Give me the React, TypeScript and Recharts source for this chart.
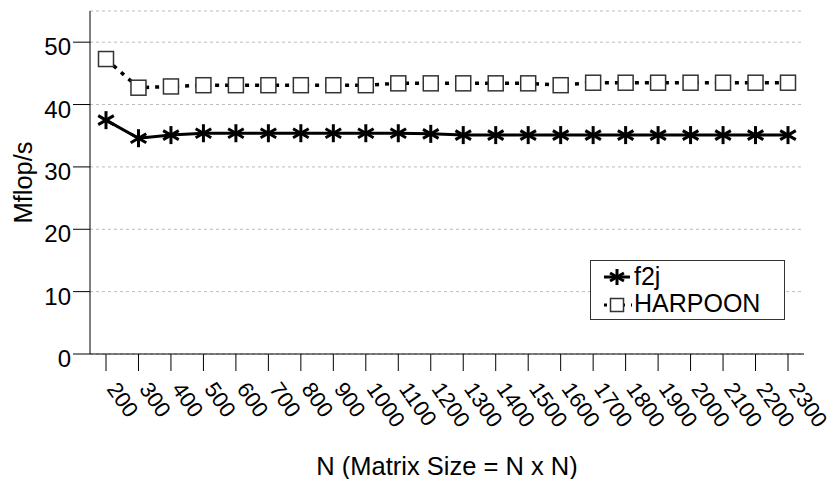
import { CartesianGrid, Legend, Line, LineChart, XAxis, YAxis } from 'recharts'

const sizes = [
  '200', '300', '400', '500', '600', '700', '800', '900', '1000', '1100', '1200',
  '1300', '1400', '1500', '1600', '1700', '1800', '1900', '2000', '2100', '2200', '2300',
]
const f2j = [
  37.5, 34.6, 35.1, 35.4, 35.4, 35.4, 35.4, 35.4, 35.4, 35.4, 35.3,
  35.1, 35.1, 35.1, 35.1, 35.1, 35.1, 35.1, 35.1, 35.1, 35.1, 35.1,
]
const harpoon = [
  47.3, 42.7, 42.9, 43.1, 43.1, 43.1, 43.1, 43.1, 43.1, 43.4, 43.4,
  43.4, 43.4, 43.4, 43.1, 43.5, 43.5, 43.5, 43.5, 43.5, 43.5, 43.5,
]
const yTicks = [0, 10, 20, 30, 40, 50]

const FONT = '"Liberation Sans", Arial, Helvetica, sans-serif'
const FS = 24

const data = sizes.map((n, i) => ({ n, f2j: f2j[i], harpoon: harpoon[i] }))

function Asterisk({ cx, cy, size = 9 }: any) {
  if (cx == null || cy == null) return null
  const arms = [90, 30, 150].map((a) => {
    const rad = (a * Math.PI) / 180
    return [Math.cos(rad) * size, Math.sin(rad) * size]
  })
  return (
    <g stroke="#000" strokeWidth={3}>
      {arms.map(([dx, dy], i) => (
        <line key={i} x1={cx - dx} y1={cy - dy} x2={cx + dx} y2={cy + dy} />
      ))}
    </g>
  )
}

function Square({ cx, cy, s = 15 }: any) {
  if (cx == null || cy == null) return null
  return (
    <rect x={cx - s / 2} y={cy - s / 2} width={s} height={s} fill="#fff" stroke="#333" strokeWidth={1.5} />
  )
}

// tick labels run down-right at a steep angle, starting just below each tick
function XTick({ x, y, payload }: any) {
  return (
    <g transform={`translate(${x},${y + 18}) rotate(55)`}>
      <text x={0} y={0} textAnchor="start" fill="#000" fontSize={22} fontFamily={FONT}>
        {payload.value}
      </text>
    </g>
  )
}

function YTick({ x, y, payload }: any) {
  return (
    <text x={x} y={y} dy={13} textAnchor="end" fill="#000" fontSize={FS} fontFamily={FONT}>
      {payload.value}
    </text>
  )
}

function LegendBox() {
  const row = { display: 'flex', alignItems: 'center', height: 27 }
  return (
    <div
      style={{
        width: 195,
        height: 60,
        boxSizing: 'border-box',
        border: '1.5px solid #333',
        background: '#fff',
        padding: '2px 0 0 12px',
        fontFamily: FONT,
        fontSize: 25,
        color: '#000',
        lineHeight: '27px',
      }}
    >
      <div style={row}>
        <svg width={30} height={22} style={{ marginRight: 1 }}>
          <line x1={1} y1={11} x2={27} y2={11} stroke="#000" strokeWidth={3} />
          <Asterisk cx={14} cy={11} size={8} />
        </svg>
        <span>f2j</span>
      </div>
      <div style={row}>
        <svg width={30} height={22} style={{ marginRight: 1 }}>
          <line x1={1} y1={12} x2={29} y2={12} stroke="#000" strokeWidth={3} strokeDasharray="3 6" />
          <Square cx={14} cy={12} s={13} />
        </svg>
        <span>HARPOON</span>
      </div>
    </div>
  )
}

export default function App() {
  return (
    <div style={{ position: 'absolute', left: 0, top: 0, width: 832, height: 479, background: '#fff' }}>
      <LineChart width={832} height={479} data={data} margin={{ top: 11, right: 28, bottom: 0, left: 0 }}>
        <CartesianGrid vertical={false} stroke="#bbb" strokeDasharray="3 3" />
        <XAxis
          dataKey="n"
          interval={0}
          height={125}
          padding={{ left: 16, right: 16 }}
          tickSize={17}
          tickMargin={0}
          stroke="#000"
          tick={<XTick />}
          label={{
            content: ({ viewBox }: any) => (
              <text
                x={viewBox.x + viewBox.width / 2}
                y={viewBox.y + viewBox.height - 4}
                textAnchor="middle"
                fontSize={25.5}
                fontFamily={FONT}
                fill="#000"
              >
                N (Matrix Size = N x N)
              </text>
            ),
          }}
        />
        <YAxis
          width={90}
          domain={[0, 55]}
          ticks={yTicks}
          tickSize={17}
          tickMargin={2}
          stroke="#000"
          tick={<YTick />}
          label={{
            content: ({ viewBox }: any) => {
              const x = 32
              const y = viewBox.y + viewBox.height / 2
              return (
                <text
                  x={x}
                  y={y}
                  transform={`rotate(-90 ${x} ${y})`}
                  textAnchor="middle"
                  fontSize={25.5}
                  fontFamily={FONT}
                  fill="#000"
                >
                  Mflop/s
                </text>
              )
            },
          }}
        />
        <Legend
          layout="vertical"
          align="center"
          verticalAlign="middle"
          content={<LegendBox />}
          wrapperStyle={{ left: 590, top: 260, width: 195, height: 60 }}
        />
        <Line
          dataKey="harpoon"
          name="HARPOON"
          stroke="#000"
          strokeWidth={3.5}
          strokeDasharray="4 6"
          dot={(p: any) => <Square key={p.index} cx={p.cx} cy={p.cy} />}
          activeDot={false}
          isAnimationActive={false}
        />
        <Line
          dataKey="f2j"
          name="f2j"
          stroke="#000"
          strokeWidth={3}
          dot={(p: any) => <Asterisk key={p.index} cx={p.cx} cy={p.cy} />}
          activeDot={false}
          isAnimationActive={false}
        />
      </LineChart>
    </div>
  )
}
